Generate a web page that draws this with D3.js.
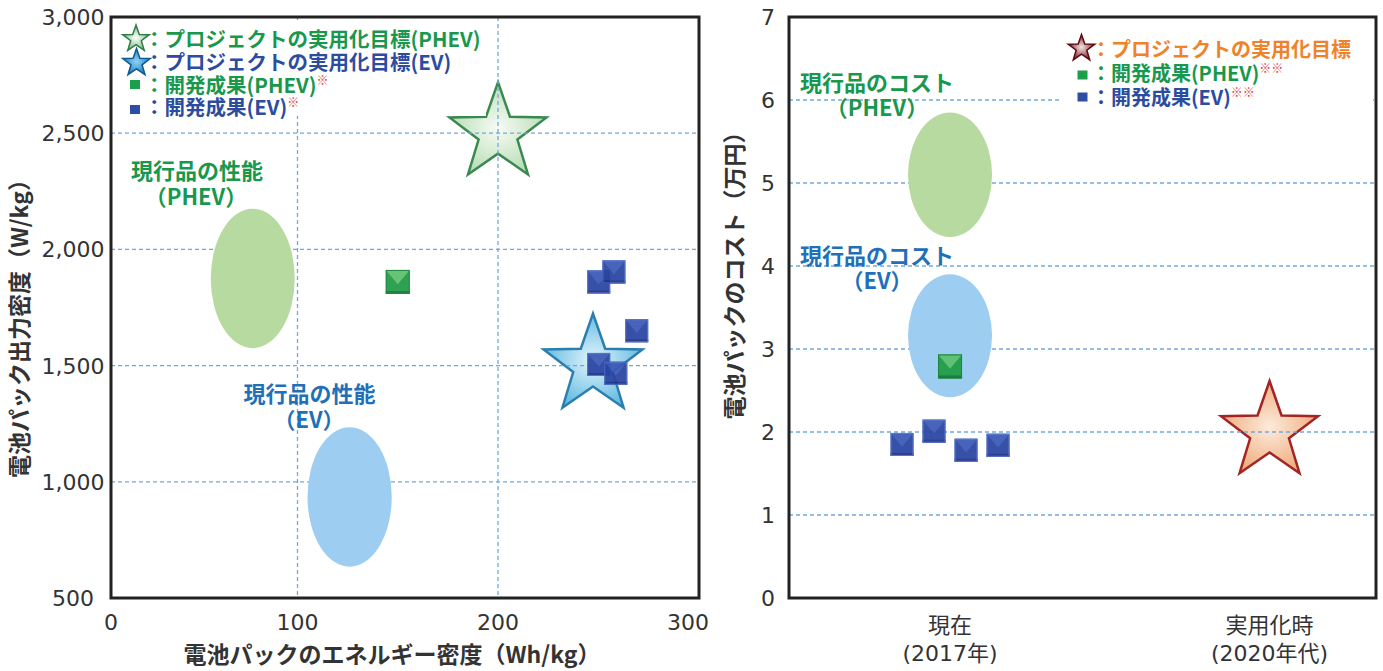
<!DOCTYPE html>
<html><head><meta charset="utf-8">
<script src="https://cdn.jsdelivr.net/npm/d3@7"></script>
<style>
body{margin:0;background:#fff;}
svg{display:block;}
</style></head><body>
<svg id="c" width="1383" height="671"></svg>
<script>
// ===== DATA: left chart (energy density Wh/kg vs output density W/kg) =====
const leftXTicks = [0, 100, 200, 300];
const leftYTicks = [500, 1000, 1500, 2000, 2500, 3000];
const leftXGrid = [100, 200];
const leftYGrid = [1000, 1500, 2000, 2500];
const leftTargetPHEV = [200, 2500];
const leftTargetEV = [250, 1500];
const leftResultPHEV = [[150, 1860]];
const leftResultEV = [[253, 1860], [261, 1903], [273, 1650], [253, 1505], [262, 1467]];
const leftCurrentPHEV = {x: [53.5, 98.5], y: [1575, 2175]};
const leftCurrentEV = {x: [105, 147], y: [635, 1235]};

// ===== DATA: right chart (pack cost, 万円) =====
const rightCategories = ["現在", "実用化時"];
const rightCategorySub = ["(2017年)", "(2020年代)"];
const rightYTicks = [0, 1, 2, 3, 4, 5, 6, 7];
const rightYGrid = [1, 2, 3, 4, 5, 6];
const rightCurrentPHEV = [4.35, 5.85];
const rightCurrentEV = [2.42, 3.90];
const rightResultPHEV = [2.79];
const rightResultEV = [1.85, 2.01, 1.78, 1.84];
const rightTarget = 2.0;

// ===== STYLE =====
const JP = '"Noto Sans CJK JP", "Noto Sans", sans-serif';
const NUM = '"DejaVu Sans", "Noto Sans CJK JP", sans-serif';
const GREEN_T = "#18984c", BLUE_T = "#2b4c9f", BLUE_L = "#1f70b8", ORANGE = "#f08228", RED = "#e83a3f", AX = "#333";
const GRID = "#72a9dc";

const svg = d3.select("#c");
const defs = svg.append("defs");
function radial(id, c0, c1) {
  const g = defs.append("radialGradient").attr("id", id).attr("cx", "50%").attr("cy", "50%").attr("r", "55%");
  g.append("stop").attr("offset", "0%").attr("stop-color", c0);
  g.append("stop").attr("offset", "100%").attr("stop-color", c1);
}
radial("starG", "#f7fbf5", "#b4dbb2");
radial("starB", "#e4f5fc", "#58b6df");
radial("starR", "#fdebdb", "#eda878");
radial("starGs", "#ffffff", "#6fb87c");
radial("starBs", "#8fd4f5", "#1676b8");
radial("starRs", "#f4e6e6", "#7a0f15");

const starPath = (R) => d3.lineRadial()
  .angle((d, i) => i * Math.PI / 5)
  .radius((d, i) => i % 2 ? R * 0.4 : R)
  .curve(d3.curveLinearClosed)(d3.range(10));

function star(g, cx, cy, R, fill, stroke, sw) {
  g.append("path").attr("d", starPath(R)).attr("transform", `translate(${cx},${cy})`)
    .attr("fill", `url(#${fill})`).attr("stroke", stroke).attr("stroke-width", sw).attr("stroke-linejoin", "miter");
}
function bevelSquare(g, cx, cy, s, c) {
  const x0 = cx - s / 2, y0 = cy - s / 2, x1 = cx + s / 2, y1 = cy + s / 2;
  const q = g.append("g").attr("opacity", 0.93);
  q.append("rect").attr("x", x0).attr("y", y0).attr("width", s).attr("height", s).attr("fill", c.mid);
  q.append("path").attr("d", `M${x0},${y0}L${x1},${y0}L${cx},${cy + s * 0.1}Z`).attr("fill", c.light);
  q.append("rect").attr("x", x0).attr("y", y1 - 3).attr("width", s).attr("height", 3).attr("fill", c.dark);
  q.append("rect").attr("x", x0 + 0.5).attr("y", y0 + 0.5).attr("width", s - 1).attr("height", s - 1)
    .attr("fill", "none").attr("stroke", c.edge).attr("stroke-width", 1);
}
const SQ_G = {mid: "#1f9c45", light: "#5cc06a", dark: "#0f7a32", edge: "#138038"};
const SQ_B = {mid: "#2a44a2", light: "#3b58b6", dark: "#1d3188", edge: "#5070c4"};

function text(g, x, y, str, size, color, weight, anchor, fam) {
  return g.append("text").attr("x", x).attr("y", y).attr("dy", "0.36em")
    .attr("font-family", fam || JP).attr("font-size", size).attr("font-weight", weight || 700)
    .attr("fill", color).attr("text-anchor", anchor || "start").text(str);
}

// ================= LEFT CHART =================
const L = {left: 111, right: 699, top: 17, bottom: 598};
const xL = d3.scaleLinear().domain(leftXTicks).range([111, 297.5, 498, 688]);
const yL = d3.scaleLinear().domain([500, 3000]).range([L.bottom, L.top]);
const gl = svg.append("g");

star(gl, xL(leftTargetPHEV[0]), yL(leftTargetPHEV[1]), 51, "starG", "#3a8a50", 2.5);
star(gl, xL(leftTargetEV[0]), yL(leftTargetEV[1]), 52, "starB", "#2b7fb0", 2.5);

gl.selectAll(".hg").data(leftYGrid).join("line")
  .attr("x1", L.left).attr("x2", L.right).attr("y1", d => yL(d)).attr("y2", d => yL(d))
  .attr("stroke", GRID).attr("stroke-width", 1.3).attr("stroke-dasharray", "4,3");
gl.selectAll(".vg").data(leftXGrid).join("line")
  .attr("x1", d => xL(d)).attr("x2", d => xL(d)).attr("y1", L.top).attr("y2", L.bottom)
  .attr("stroke", GRID).attr("stroke-width", 1.3).attr("stroke-dasharray", "4,3");

gl.append("rect").attr("x", 114).attr("y", 20).attr("width", 372).attr("height", 96).attr("fill", "#fff");

function ellipse(g, xr, yr, xs, ys, color) {
  g.append("ellipse").attr("cx", (xs(xr[0]) + xs(xr[1])) / 2).attr("cy", (ys(yr[0]) + ys(yr[1])) / 2)
    .attr("rx", Math.abs(xs(xr[1]) - xs(xr[0])) / 2).attr("ry", Math.abs(ys(yr[1]) - ys(yr[0])) / 2)
    .attr("fill", color);
}
ellipse(gl, leftCurrentPHEV.x, leftCurrentPHEV.y, xL, yL, "#b6da9f");
ellipse(gl, leftCurrentEV.x, leftCurrentEV.y, xL, yL, "#9dcdf0");

text(gl, 197, 171, "現行品の性能", 22, GREEN_T, 700, "middle");
text(gl, 196, 197, "（PHEV）", 22, GREEN_T, 700, "middle");
text(gl, 309.5, 394, "現行品の性能", 22, BLUE_L, 700, "middle");
text(gl, 309, 420, "（EV）", 22, BLUE_L, 700, "middle");

leftResultPHEV.forEach(d => bevelSquare(gl, xL(d[0]), yL(d[1]), 24, SQ_G));
leftResultEV.forEach(d => bevelSquare(gl, xL(d[0]), yL(d[1]), 23, SQ_B));

gl.append("rect").attr("x", L.left).attr("y", L.top).attr("width", L.right - L.left).attr("height", L.bottom - L.top)
  .attr("fill", "none").attr("stroke", "#222").attr("stroke-width", 3);

gl.selectAll(".yt").data(leftYTicks).join("text")
  .attr("x", 73).attr("y", d => yL(d)).attr("dy", "0.36em").attr("text-anchor", "middle")
  .attr("font-family", NUM).attr("font-size", 22).attr("fill", AX).text(d3.format(","));
gl.selectAll(".xt").data(leftXTicks).join("text")
  .attr("x", d => xL(d)).attr("y", 622).attr("dy", "0.36em").attr("text-anchor", "middle")
  .attr("font-family", NUM).attr("font-size", 22).attr("fill", AX).text(d => d);

text(gl, 392, 655, "電池パックのエネルギー密度（Wh/kg）", 23, AX, 700, "middle");
text(gl, 0, 0, "電池パック出力密度（W/kg）", 23, AX, 700, "middle")
  .attr("transform", "translate(20,323) rotate(-90)");

// legend
star(gl, 136, 39, 14, "starGs", "#2f7a45", 1.5);
star(gl, 136.5, 63, 14.5, "starBs", "#0f5a92", 1.5);
gl.append("rect").attr("x", 130).attr("y", 80).attr("width", 10).attr("height", 9).attr("fill", "#1aa04a");
gl.append("rect").attr("x", 130).attr("y", 105).attr("width", 10).attr("height", 9).attr("fill", "#2c4fa3");
text(gl, 144, 40, "：プロジェクトの実用化目標(PHEV)", 20.5, GREEN_T);
text(gl, 144, 63, "：プロジェクトの実用化目標(EV)", 20.5, BLUE_T);
const t3 = text(gl, 144, 86, "：開発成果(PHEV)", 20.5, GREEN_T);
t3.append("tspan").attr("font-size", 12).attr("dy", "-0.7em").attr("fill", RED).text("※");
const t4 = text(gl, 144, 108, "：開発成果(EV)", 20.5, BLUE_T);
t4.append("tspan").attr("font-size", 12).attr("dy", "-0.7em").attr("fill", RED).text("※");

// ================= RIGHT CHART =================
const R = {left: 789, right: 1376, top: 17, bottom: 598};
const xR = d3.scalePoint().domain(rightCategories).range([R.left, R.right]).padding(0.4186).align(0.602);
const jitter = d3.scalePoint().domain(d3.range(rightResultEV.length)).range([-48, 48]);
const yR = d3.scaleLinear().domain([0, 7]).range([R.bottom, R.top]);
const gr = svg.append("g");

star(gr, xR(rightCategories[1]), yR(rightTarget), 51, "starR", "#a42424", 2.5);

gr.selectAll(".hg").data(rightYGrid).join("line")
  .attr("x1", R.left).attr("x2", R.right).attr("y1", d => yR(d)).attr("y2", d => yR(d))
  .attr("stroke", GRID).attr("stroke-width", 1.3).attr("stroke-dasharray", "4,3");

gr.append("rect").attr("x", 1060).attr("y", 28).attr("width", 313).attr("height", 82).attr("fill", "#fff");

const cx0 = xR(rightCategories[0]);
function vEllipse(g, cx, yr, color) {
  g.append("ellipse").attr("cx", cx).attr("cy", (yR(yr[0]) + yR(yr[1])) / 2)
    .attr("rx", 42).attr("ry", Math.abs(yR(yr[1]) - yR(yr[0])) / 2).attr("fill", color);
}
vEllipse(gr, cx0, rightCurrentPHEV, "#b6da9f");
vEllipse(gr, cx0, rightCurrentEV, "#9dcdf0");

text(gr, 877, 83, "現行品のコスト", 22, GREEN_T, 700, "middle");
text(gr, 877, 108, "（PHEV）", 22, GREEN_T, 700, "middle");
text(gr, 877, 256, "現行品のコスト", 22, BLUE_L, 700, "middle");
text(gr, 877, 281, "（EV）", 22, BLUE_L, 700, "middle");

rightResultPHEV.forEach(v => bevelSquare(gr, cx0, yR(v), 24, SQ_G));
rightResultEV.forEach((v, i) => bevelSquare(gr, cx0 + jitter(i), yR(v), 23, SQ_B));

gr.append("rect").attr("x", R.left).attr("y", R.top).attr("width", R.right - R.left).attr("height", R.bottom - R.top)
  .attr("fill", "none").attr("stroke", "#222").attr("stroke-width", 3);

gr.selectAll(".yt").data(rightYTicks).join("text")
  .attr("x", 768).attr("y", d => yR(d)).attr("dy", "0.36em").attr("text-anchor", "middle")
  .attr("font-family", NUM).attr("font-size", 22).attr("fill", AX).text(d => d);
rightCategories.forEach((c, i) => {
  text(gr, xR(c), 625, c, 22, AX, 400, "middle", NUM);
  text(gr, xR(c), 653, rightCategorySub[i], 22, AX, 400, "middle", NUM);
});

text(gr, 0, 0, "電池パックのコスト（万円）", 23, AX, 700, "middle")
  .attr("transform", "translate(735,270) rotate(-90)");

// legend
star(gr, 1081.5, 48.5, 14, "starRs", "#5a0a10", 1.5);
gr.append("rect").attr("x", 1077.5).attr("y", 70.5).attr("width", 10).attr("height", 9).attr("fill", "#1aa04a");
gr.append("rect").attr("x", 1077.5).attr("y", 92.5).attr("width", 10).attr("height", 9).attr("fill", "#2c4fa3");
text(gr, 1091, 50, "：プロジェクトの実用化目標", 20, ORANGE);
const r2 = text(gr, 1091, 74, "：開発成果(PHEV)", 20, GREEN_T);
r2.append("tspan").attr("font-size", 12).attr("dy", "-0.7em").attr("fill", RED).text("※※");
const r3 = text(gr, 1091, 98, "：開発成果(EV)", 20, BLUE_T);
r3.append("tspan").attr("font-size", 12).attr("dy", "-0.7em").attr("fill", RED).text("※※");
</script>
</body></html>
